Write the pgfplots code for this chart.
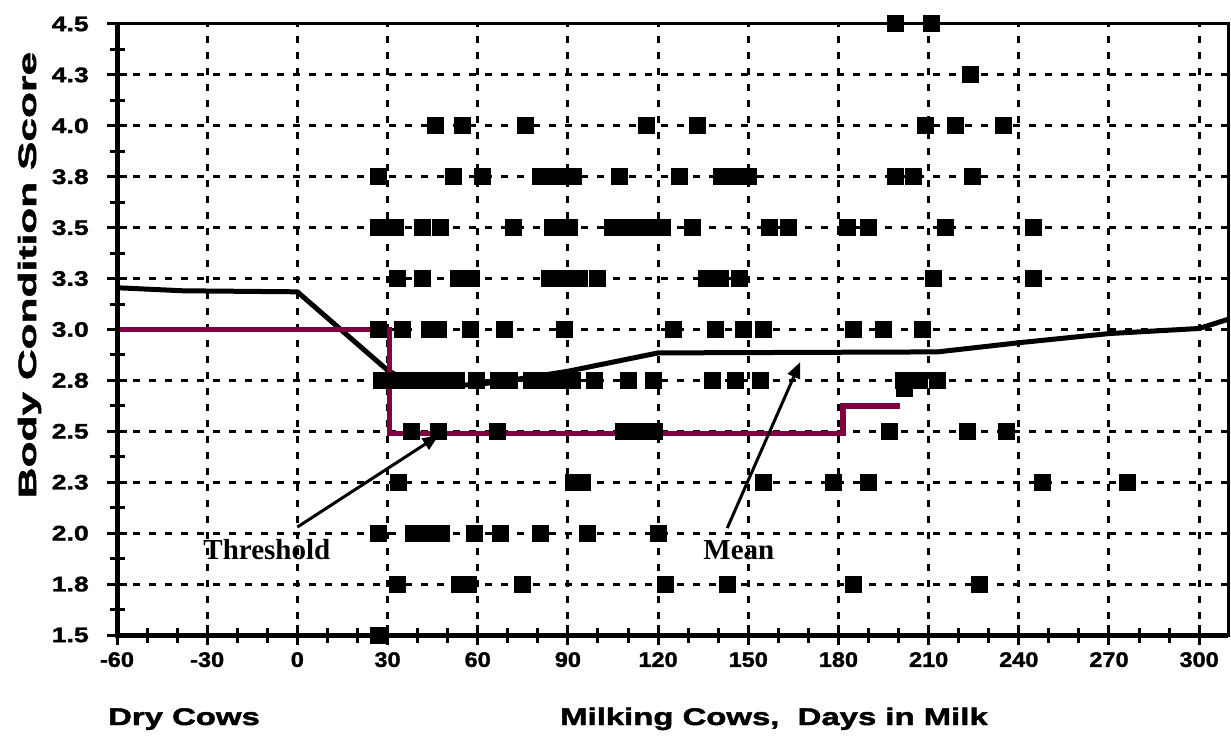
\documentclass[border=0pt]{standalone}
\usepackage{fontspec}
\setmainfont{Liberation Sans}
\newfontfamily\ytfont{Liberation Sans}[FakeStretch=1.27, FakeBold=1.5]
\newfontfamily\xtfont{Liberation Sans}[FakeStretch=1.12, FakeBold=1.5]
\newfontfamily\labfont{Liberation Sans}[FakeStretch=1.37, FakeBold=2]
\newfontfamily\ylabfont{Liberation Sans}[FakeStretch=1.7, FakeBold=2]
\newfontfamily\annfont{Liberation Serif}
\usepackage{pgfplots}
\pgfplotsset{compat=1.18}
\usetikzlibrary{arrows.meta}
\definecolor{maroonline}{RGB}{128,0,64}

\pgfplotstableread{
x y
199 4.5
211 4.5
224 4.25
46 4.0
55 4.0
76 4.0
116 4.0
133 4.0
209 4.0
219 4.0
235 4.0
27 3.75
52 3.75
61.5 3.75
81 3.75
86.5 3.75
92 3.75
107 3.75
127 3.75
141 3.75
145.5 3.75
150 3.75
199 3.75
205 3.75
224.5 3.75
27 3.5
30 3.5
32.5 3.5
41.5 3.5
47.5 3.5
72 3.5
85 3.5
90.5 3.5
105 3.5
110.5 3.5
116 3.5
121.5 3.5
131.5 3.5
157 3.5
163.5 3.5
183 3.5
190 3.5
215.5 3.5
245 3.5
33.3 3.25
41.6 3.25
53.5 3.25
58 3.25
84 3.25
89 3.25
94 3.25
100 3.25
136 3.25
140.7 3.25
147 3.25
211.5 3.25
245 3.25
27 3.0
35 3.0
44 3.0
47 3.0
57.5 3.0
69 3.0
89 3.0
125 3.0
139 3.0
148.3 3.0
155 3.0
185 3.0
195 3.0
208 3.0
28 2.75
31 2.75
34 2.75
37 2.75
40 2.75
43 2.75
46 2.75
49 2.75
52 2.75
53 2.75
59.5 2.75
67 2.75
70.5 2.75
78 2.75
83 2.75
88 2.75
91.5 2.75
99 2.75
110 2.75
118.5 2.75
138 2.75
145.7 2.75
154 2.75
201.5 2.75
207 2.75
213 2.75
202 2.71
38 2.5
47 2.5
66.5 2.5
108.5 2.5
113.5 2.5
118.7 2.5
197 2.5
223 2.5
236 2.5
33.5 2.25
92 2.25
95 2.25
155 2.25
178.3 2.25
190 2.25
248 2.25
276 2.25
27 2.0
38.5 2.0
43.5 2.0
48 2.0
59 2.0
67.5 2.0
81 2.0
96.5 2.0
120 2.0
33.3 1.75
54 1.75
57 1.75
75 1.75
122.5 1.75
143 1.75
185 1.75
227 1.75
27 1.5
}\cows

\begin{document}
\begin{tikzpicture}
\useasboundingbox (0,0) rectangle (1231pt,739pt);
\begin{axis}[
  at={(117pt,104pt)}, anchor=south west,
  scale only axis, width=1111pt, height=611pt,
  xmin=-60, xmax=309.6, ymin=1.5, ymax=4.5,
  xtick={-60,-30,0,30,60,90,120,150,180,210,240,270,300},
  xticklabels={-60,-30,0,30,60,90,120,150,180,210,240,270,300},
  ytick={1.5,1.75,2,2.25,2.5,2.75,3,3.25,3.5,3.75,4,4.25,4.5},
  yticklabels={1.5,1.8,2.0,2.3,2.5,2.8,3.0,3.3,3.5,3.8,4.0,4.3,4.5},
  minor x tick num=2, minor y tick num=1,
  tick pos=left, tick align=center,
  major tick length=20pt, minor tick length=15pt,
  tick style={black, line width=3pt},
  grid=major,
  major grid style={black, line width=3pt, dash pattern=on 7pt off 9pt},
  axis line style={black, line width=3pt},
  clip=false,
  xticklabel style={font=\xtfont\bfseries\fontsize{21}{21}\selectfont, inner sep=0pt, yshift=-7pt},
  yticklabel style={font=\ytfont\bfseries\fontsize{21}{21}\selectfont, inner sep=0pt, xshift=-18pt},
]
\addplot[black, line width=5pt, line join=round] coordinates {(-60,3.205) (-38,3.19) (0,3.185) (30,2.80) (36,2.75) (44,2.72) (60,2.73) (75,2.76) (90,2.795) (105,2.84) (120,2.885) (213,2.89) (240,2.935) (270,2.98) (300,3.005) (309.6,3.05)};
\addplot[only marks, mark=square*, mark size=8pt, mark options={fill=black, draw=black, line width=0pt}] table[x=x, y=y] {\cows};
\addplot[maroonline, line width=5.5pt, line join=miter] coordinates {(-60,3.0) (30.7,3.0) (30.7,2.49) (181.5,2.49) (181.5,2.625) (200.5,2.625)};
\draw[line width=5pt, black] (rel axis cs:0,1) -- (rel axis cs:0,0) -- (rel axis cs:1,0);
\draw[-{Triangle[length=16pt,width=13pt]}, line width=3pt] (axis cs:0,2.03) -- (axis cs:47,2.48);
\draw[-{Triangle[length=16pt,width=13pt]}, line width=3pt] (axis cs:143,2.025) -- (axis cs:167.3,2.84);
\node[anchor=base west, inner sep=0pt, font=\annfont\bfseries\fontsize{29}{29}\selectfont] at (axis cs:-31.3,1.873) {Threshold};
\node[anchor=base west, inner sep=0pt, font=\annfont\bfseries\fontsize{29}{29}\selectfont] at (axis cs:135,1.873) {Mean};
\end{axis}
\node[anchor=base west, inner sep=0pt, font=\labfont\bfseries\fontsize{24}{24}\selectfont] at (108pt,14pt) {Dry Cows};
\node[anchor=base west, inner sep=0pt, font=\labfont\bfseries\fontsize{24}{24}\selectfont] at (560pt,14pt) {Milking Cows,\ \ Days in Milk};
\node[rotate=90, anchor=base, inner sep=0pt, font=\ylabfont\bfseries\fontsize{25}{25}\selectfont] at (36pt,464pt) {Body Condition Score};
\end{tikzpicture}
\end{document}
